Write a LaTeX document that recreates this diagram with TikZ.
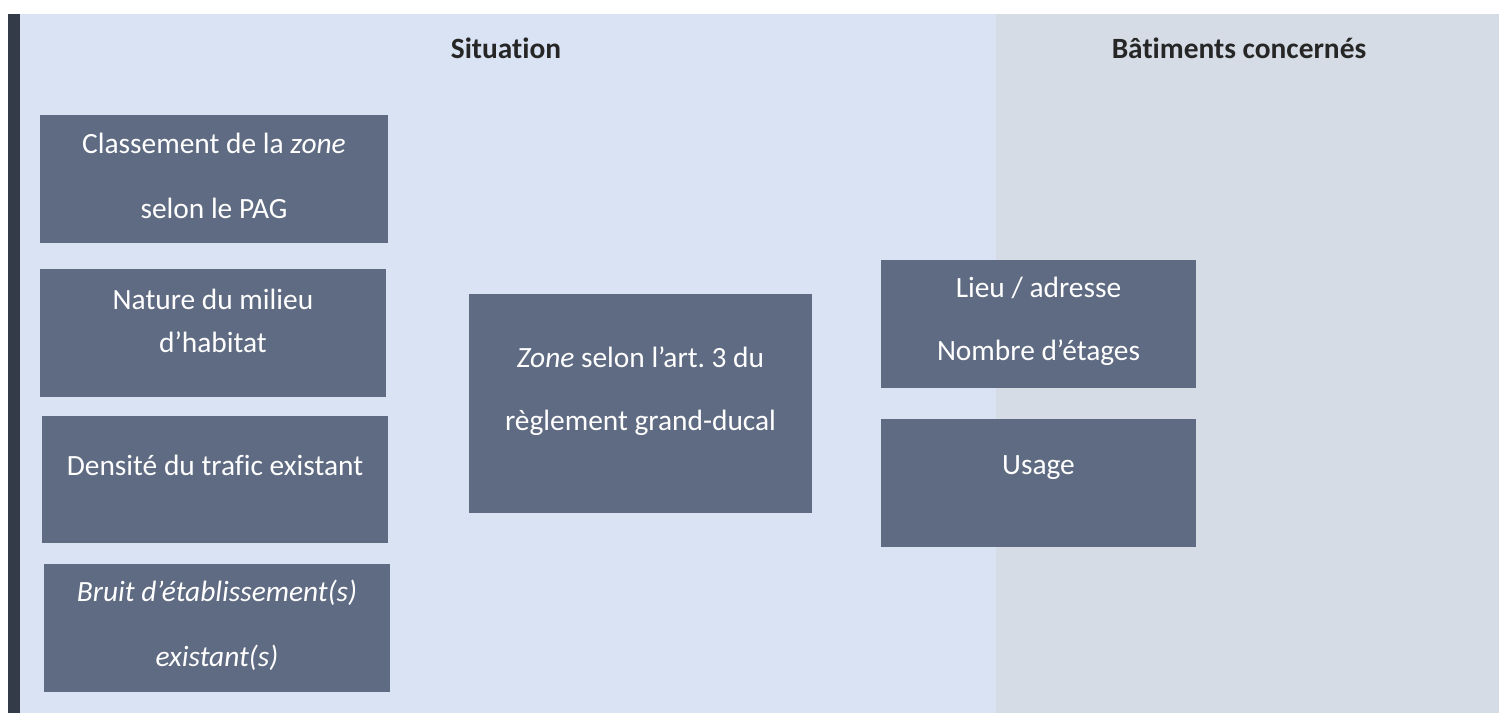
\documentclass[tikz,border=0pt]{standalone}
\usepackage{fontspec}
\setmainfont{Carlito}[Ligatures=NoCommon]
\frenchspacing
\definecolor{bluebg}{HTML}{DAE3F3}
\definecolor{greybg}{HTML}{D6DCE5}
\definecolor{sidebar}{HTML}{333B48}
\definecolor{boxfill}{HTML}{5F6B82}
\definecolor{headtext}{HTML}{262626}
\begin{document}
\begin{tikzpicture}[x=0.5pt,y=-0.5pt,
    box/.style={fill=boxfill,inner sep=0pt},
    sz/.style 2 args={minimum width=#1*0.5pt,minimum height=#2*0.5pt},
    txt/.style={text=white,align=center,inner sep=0pt,font=\fontsize{14.7}{21.5}\selectfont},
    head/.style={text=headtext,inner sep=0pt,font=\bfseries\fontsize{14.7}{17}\selectfont}]
    \useasboundingbox (0,0) rectangle (1499,713);
    % backgrounds
    \fill[bluebg] (20,14) rectangle (996,713);
    \fill[greybg] (996,14) rectangle (1499,713);
    \fill[sidebar] (8,14) rectangle (20,713);
    % column heads
    \node[head] (situation) at (506,48) {Situation};
    \node[head] (batiments) at (1239,48) {Bâtiments concernés};
    % boxes
    \node[box,sz={348}{128}] (pag) at (214,179) {};
    \node[box,sz={346}{128}] (milieu) at (213,333) {};
    \node[box,sz={346}{127}] (trafic) at (215,479.5) {};
    \node[box,sz={346}{128}] (bruit) at (217,628) {};
    \node[box,sz={343}{219}] (zone) at (640.5,403.5) {};
    \node[box,sz={315}{128}] (lieu) at (1038.5,324) {};
    \node[box,sz={315}{128}] (usage) at (1038.5,483) {};
    % texts
    \node[txt] (pagtxt) at (214,176) {Classement de la \textit{zone}\\[11pt]selon le PAG};
    \node[txt] (milieutxt) at (213,321) {Nature du milieu\\d’habitat};
    \node[txt] (trafictxt) at (215,465) {Densité du trafic existant};
    \node[txt] (bruittxt) at (217,625) {\textit{Bruit d’établissement(s)}\\[11pt]\textit{existant(s)}};
    \node[txt] (zonetxt) at (640.5,391) {\textit{Zone} selon l’art.\ 3 du\\[10pt]règlement grand-ducal};
    \node[txt] (lieutxt) at (1038.5,321) {Lieu / adresse\\[10pt]Nombre d’étages};
    \node[txt] (usagetxt) at (1038.5,468) {Usage};
\end{tikzpicture}
\end{document}
